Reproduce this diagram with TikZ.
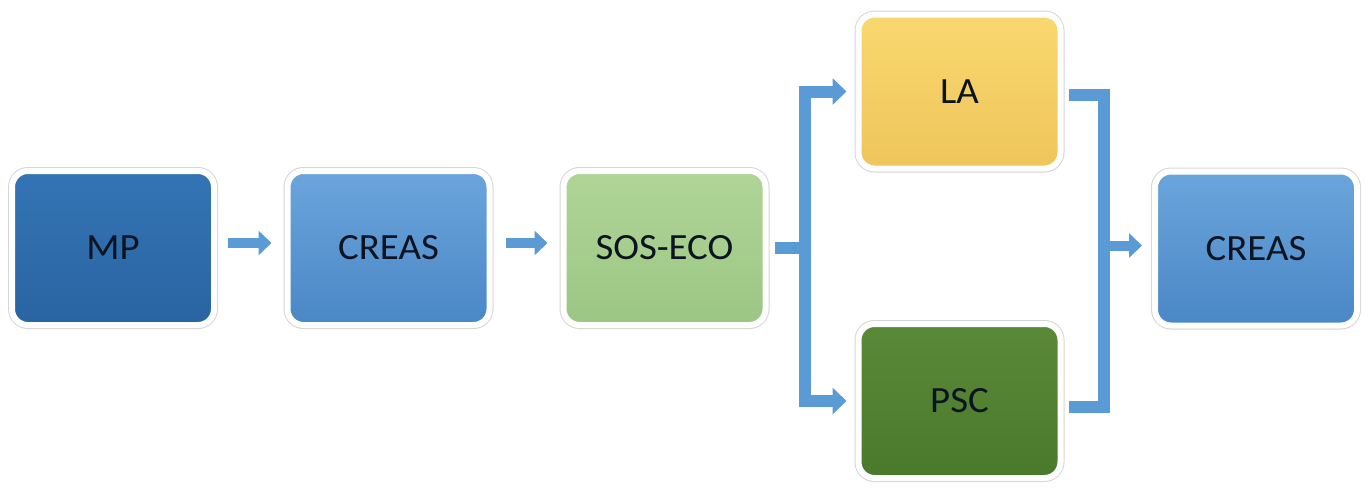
\documentclass[tikz,border=0pt]{standalone}
\usepackage{fontspec}
\setmainfont{Carlito}
\usetikzlibrary{arrows.meta,shadows}
\definecolor{flowblue}{HTML}{5B9BD5}
\definecolor{mpTop}{HTML}{3474B5}
\definecolor{mpBot}{HTML}{2A64A2}
\definecolor{crTop}{HTML}{6BA5DC}
\definecolor{crBot}{HTML}{4A87C6}
\definecolor{soTop}{HTML}{B0D597}
\definecolor{soBot}{HTML}{9CC683}
\definecolor{laTop}{HTML}{FAD870}
\definecolor{laBot}{HTML}{EEC55A}
\definecolor{psTop}{HTML}{5A8A38}
\definecolor{psBot}{HTML}{4A792C}
\definecolor{txt}{HTML}{0B1420}
\begin{document}
\begin{tikzpicture}[x=1pt,y=-1pt,
  box/.style={rectangle, rounded corners=16pt, minimum width=202pt, minimum height=154pt,
    draw=white, line width=6pt, inner sep=0pt, text=txt,
    font=\fontsize{37}{40}\selectfont,
    preaction={draw=black!16, line width=8pt},
    drop shadow={shadow xshift=0pt, shadow yshift=-3pt, opacity=0.22}},
  flowline/.style={draw=flowblue, line width=12pt, line join=miter},
  flowarrow/.style={draw=flowblue, line width=10pt, -{Triangle[width=24pt,length=13pt]}},
  bracket/.style={draw=flowblue, line width=12pt, line join=miter,
    {Triangle[width=26pt,length=14pt]}-{Triangle[width=26pt,length=14pt]}}
]
\useasboundingbox (0,0) rectangle (1365,488);
\fill[white] (0,0) rectangle (1365,488);

\node[box, top color=mpTop, bottom color=mpBot] (mp) at (113,248) {\scalebox{1.05}[1]{MP}};
\node[box, top color=crTop, bottom color=crBot] (creasA) at (388.5,248) {\scalebox{1.05}[1]{CREAS}};
\node[box, top color=soTop, bottom color=soBot] (sos) at (664.5,248) {\scalebox{1.05}[1]{SOS-ECO}};
\node[box, top color=laTop, bottom color=laBot] (la) at (959.5,91.5) {\scalebox{1.05}[1]{LA}};
\node[box, top color=psTop, bottom color=psBot] (psc) at (959.5,401) {\scalebox{1.05}[1]{PSC}};
\node[box, top color=crTop, bottom color=crBot] (creasB) at (1256,248.5) {\scalebox{1.05}[1]{CREAS}};

\coordinate (bx) at (805,0);
\coordinate (bxx) at (1104,0);

\draw[flowarrow, shorten <=11pt, shorten >=13pt] ([yshift=5pt]mp.east) -- ([yshift=5pt]creasA.west);
\draw[flowarrow, shorten <=13pt, shorten >=13pt] ([yshift=5pt]creasA.east) -- ([yshift=5pt]sos.west);

\draw[flowline] ([xshift=6pt]sos.east) -- (sos.east -| bx);
\draw[bracket] ([xshift=-9pt]la.west) -- (bx |- la.west) -- (bx |- psc.west) -- ([xshift=-9pt]psc.west);

\draw[flowline] ([xshift=5pt,yshift=-3pt]la.east) -- ([yshift=-3pt]bxx |- la.east) -- ([yshift=-6pt]bxx |- psc.east) -- ([xshift=5pt,yshift=-6pt]psc.east);
\draw[flowarrow, shorten >=10pt] ([yshift=3pt]bxx |- creasB.west) -- ([yshift=3pt]creasB.west);
\end{tikzpicture}
\end{document}
